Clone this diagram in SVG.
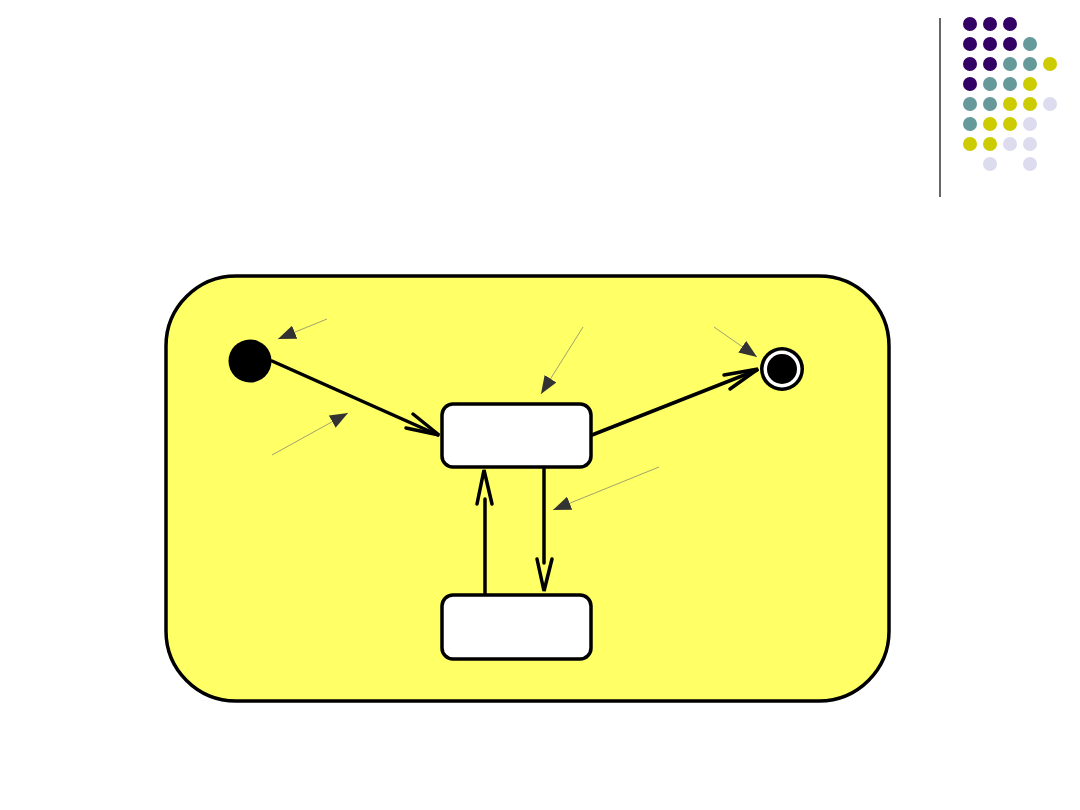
<svg xmlns="http://www.w3.org/2000/svg" width="1080" height="810" viewBox="0 0 1080 810">
<style>
.p{fill:#330066}.t{fill:#669999}.y{fill:#CCCC00}.l{fill:#DCDCEE}
.state{fill:#ffffff;stroke:#000;stroke-width:3.5}
.edge{fill:none;stroke:#000;stroke-width:3.5;stroke-linecap:round;stroke-linejoin:miter}
.note{fill:none;stroke:#8a8a70;stroke-width:0.8}
</style>
<defs>
<marker id="tri" markerUnits="userSpaceOnUse" markerWidth="20" markerHeight="14" refX="18" refY="7" orient="auto">
<path d="M0,0 L18,7 L0,14 Z" fill="#333333"/>
</marker>
</defs>
<rect width="1080" height="810" fill="#ffffff"/>
<g id="decor">
<line x1="940" y1="18" x2="940" y2="197" stroke="#000" stroke-width="1.2"/>
<g>
<circle class="p" cx="970" cy="24" r="7"/><circle class="p" cx="990" cy="24" r="7"/><circle class="p" cx="1010" cy="24" r="7"/>
<circle class="p" cx="970" cy="44" r="7"/><circle class="p" cx="990" cy="44" r="7"/><circle class="p" cx="1010" cy="44" r="7"/><circle class="t" cx="1030" cy="44" r="7"/>
<circle class="p" cx="970" cy="64" r="7"/><circle class="p" cx="990" cy="64" r="7"/><circle class="t" cx="1010" cy="64" r="7"/><circle class="t" cx="1030" cy="64" r="7"/><circle class="y" cx="1050" cy="64" r="7"/>
<circle class="p" cx="970" cy="84" r="7"/><circle class="t" cx="990" cy="84" r="7"/><circle class="t" cx="1010" cy="84" r="7"/><circle class="y" cx="1030" cy="84" r="7"/>
<circle class="t" cx="970" cy="104" r="7"/><circle class="t" cx="990" cy="104" r="7"/><circle class="y" cx="1010" cy="104" r="7"/><circle class="y" cx="1030" cy="104" r="7"/><circle class="l" cx="1050" cy="104" r="7"/>
<circle class="t" cx="970" cy="124" r="7"/><circle class="y" cx="990" cy="124" r="7"/><circle class="y" cx="1010" cy="124" r="7"/><circle class="l" cx="1030" cy="124" r="7"/>
<circle class="y" cx="970" cy="144" r="7"/><circle class="y" cx="990" cy="144" r="7"/><circle class="l" cx="1010" cy="144" r="7"/><circle class="l" cx="1030" cy="144" r="7"/>
<circle class="l" cx="990" cy="164" r="7"/><circle class="l" cx="1030" cy="164" r="7"/>
</g>
</g>
<g id="composite">
<rect x="166" y="276" width="723" height="425" rx="70" ry="70" fill="#FFFF66" stroke="#000" stroke-width="3.5"/>
</g>
<g id="initial">
<circle cx="250" cy="361" r="21.5" fill="#000"/>
</g>
<g id="final">
<circle cx="782" cy="369" r="22" fill="#000"/>
<circle cx="782" cy="369" r="18.5" fill="#fff"/>
<circle cx="782" cy="369" r="15" fill="#000"/>
</g>
<g id="state1">
<rect class="state" x="442" y="404" width="149" height="63" rx="11" ry="11"/>
</g>
<g id="state2">
<rect class="state" x="442" y="595" width="149" height="64" rx="11" ry="11"/>
</g>
<g id="connectors">
<path class="edge" d="M272,361 L438,435"/>
<path class="edge" d="M413,414 L439,435 L406,428"/>
<path class="edge" d="M592,435 L757,370"/>
<path class="edge" d="M724,375 L758,369 L730,389"/>
<path class="edge" d="M544,469 L544,563"/>
<path class="edge" d="M537,559 L544,591 L552,559"/>
<path class="edge" d="M485,594 L485,499"/>
<path class="edge" d="M477,504 L484,470 L492,504"/>
</g>
<g id="callouts">
<line class="note" x1="327" y1="319" x2="278" y2="339" marker-end="url(#tri)"/>
<line class="note" x1="272" y1="455" x2="348" y2="413" marker-end="url(#tri)"/>
<line class="note" x1="583" y1="327" x2="541" y2="394" marker-end="url(#tri)"/>
<line class="note" x1="714" y1="327" x2="757" y2="357" marker-end="url(#tri)"/>
<line class="note" x1="659" y1="467" x2="553" y2="510" marker-end="url(#tri)"/>
</g>
</svg>
